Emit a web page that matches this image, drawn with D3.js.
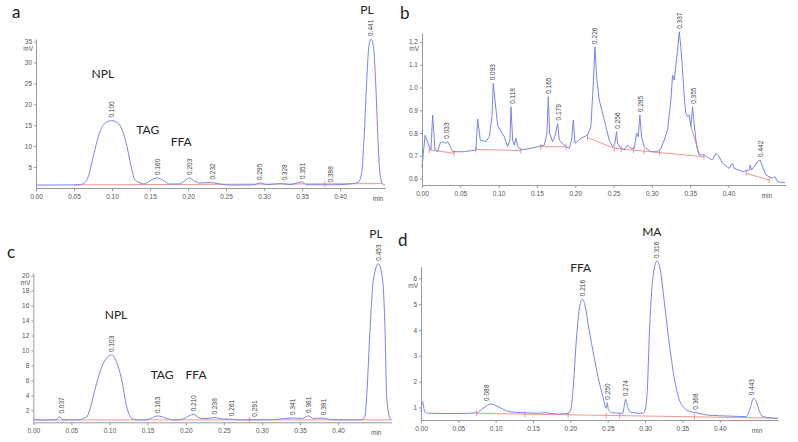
<!DOCTYPE html>
<html>
<head>
<meta charset="utf-8">
<script src="https://cdn.jsdelivr.net/npm/d3@7"></script>
<style>
  body { margin: 0; background: #fff; }
  svg text { font-family: "Liberation Sans", Arial, sans-serif; }
  .axis path, .axis line { stroke: #9a9a9a; }
  .axis text { fill: #555; font-size: 6.5px; }
  .name { font-family: Lato, "Open Sans", sans-serif !important; fill: #222; font-size: 12px; }
  .letter { font-family: Lato, "Open Sans", sans-serif !important; fill: #222; font-size: 17px; }
</style>
</head>
<body>
<svg id="chart" width="798" height="442"></svg>
<script>
// retention time ticks (min), shared by all chromatograms
var timeTicks = [0, 0.05, 0.10, 0.15, 0.20, 0.25, 0.30, 0.35, 0.40];

// ---- a : [time min, mV]
var aSignal = [[0,0.7],[0.03,0.72],[0.055,0.75],[0.062,1.0],[0.069,2.8],[0.0754,7.6],[0.0842,13.5],[0.093,15.75],[0.0996,16.1],
  [0.1083,15.4],[0.115,13.1],[0.1215,8.4],[0.126,4.4],[0.130,2.0],[0.137,1.2],[0.142,0.95],[0.150,1.75],[0.159,2.4],[0.1675,1.8],
  [0.176,0.95],[0.187,0.95],[0.196,1.75],[0.2018,2.4],[0.209,1.6],[0.216,1.2],[0.229,1.3],[0.242,0.95],[0.255,0.7],[0.286,0.75],
  [0.295,1.2],[0.303,0.8],[0.323,1.05],[0.334,0.8],[0.3496,1.45],[0.356,0.8],[0.388,0.75],[0.4175,1.05],[0.424,1.35],[0.4285,3.6],
  [0.432,13.1],[0.435,25],[0.438,33.8],[0.4408,35.6],[0.444,33.8],[0.447,25],[0.4496,13.1],[0.4526,3.6],[0.456,0.95],[0.459,0.7]];
var aBaseline = [[[0.05,0.75],[0.455,1.05]]];
var aBaseMarks = [0.38];
var aPeaks = [[0.100,16.1],[0.160,2.4],[0.203,2.4],[0.232,1.3],[0.295,1.2],[0.328,1.05],[0.351,1.45],[0.388,0.6],[0.441,35.6]];
var aNames = [["NPL",0.088,27],["TAG",0.147,13.7],["FFA",0.191,10.8],["PL",0.4355,42.2]];
var aYTicks = [5,10,15,20,25,30,35];

// ---- b
var bSignal = [[0,0.65],[0.004,0.79],[0.0096,0.74],[0.0117,0.726],[0.0139,0.879],[0.017,0.726],[0.0204,0.718],[0.0239,0.758],
  [0.027,0.762],[0.0313,0.755],[0.0335,0.762],[0.037,0.74],[0.04,0.718],[0.0552,0.718],[0.0704,0.726],[0.0726,0.861],[0.0761,0.769],
  [0.0835,0.762],[0.0878,0.784],[0.0913,0.872],[0.093,1.018],[0.0952,0.945],[0.0987,0.835],[0.103,0.806],[0.1074,0.784],[0.1117,0.74],
  [0.1148,0.769],[0.1161,0.915],[0.1183,0.769],[0.1204,0.747],[0.1226,0.777],[0.1248,0.74],[0.1291,0.726],[0.1422,0.733],[0.1596,0.747],
  [0.163,0.799],[0.1648,0.959],[0.1665,0.799],[0.1704,0.762],[0.1735,0.784],[0.177,0.842],[0.1791,0.769],[0.1878,0.74],[0.1922,0.733],
  [0.1952,0.769],[0.1974,0.857],[0.1996,0.755],[0.2074,0.777],[0.2161,0.791],[0.2204,0.828],[0.2235,1.018],[0.2257,1.178],[0.2278,1.047],
  [0.2313,0.945],[0.2357,0.886],[0.24,0.828],[0.2443,0.769],[0.2487,0.74],[0.2517,0.755],[0.2539,0.806],[0.2552,0.755],[0.2596,0.733],
  [0.2639,0.726],[0.2683,0.747],[0.2726,0.733],[0.277,0.733],[0.28,0.799],[0.2822,0.784],[0.2843,0.879],[0.2865,0.784],[0.29,0.74],
  [0.2987,0.718],[0.3074,0.718],[0.3117,0.733],[0.3161,0.769],[0.3204,0.813],[0.3248,0.945],[0.327,1.054],[0.3291,1.032],[0.3313,1.098],
  [0.3335,1.164],[0.3357,1.244],[0.3378,1.178],[0.34,1.076],[0.3422,0.959],[0.3443,0.886],[0.3465,0.872],[0.3487,0.879],[0.3509,0.828],
  [0.353,0.915],[0.3552,0.842],[0.3574,0.769],[0.3596,0.726],[0.3617,0.704],[0.3683,0.704],[0.3748,0.689],[0.3791,0.682],[0.3835,0.711],
  [0.3878,0.696],[0.3922,0.667],[0.4009,0.645],[0.4052,0.667],[0.4074,0.645],[0.4183,0.631],[0.427,0.638],[0.4283,0.66],[0.43,0.638],
  [0.4335,0.653],[0.4378,0.674],[0.4413,0.682],[0.4443,0.653],[0.4487,0.616],[0.4574,0.601],[0.4604,0.609],[0.4639,0.587],[0.4735,0.582]];
var bBaseline = [[[0.0096,0.726],[0.042,0.711]],[[0.0704,0.728],[0.129,0.723]],[[0.155,0.74],[0.188,0.74]],
  [[0.216,0.78],[0.251,0.733],[0.368,0.696]],[[0.351,0.828],[0.362,0.704]],[[0.423,0.623],[0.453,0.594]]];
var bBaseMarks = [0.0096,0.042,0.0704,0.129,0.155,0.188,0.216,0.251,0.26,0.276,0.29,0.31,0.368,0.423,0.453];
var bPeaks = [[0.033,0.762],[0.093,1.018],[0.118,0.915],[0.165,0.959],[0.179,0.842],[0.226,1.178],[0.256,0.806],[0.285,0.879],
  [0.337,1.244],[0.355,0.915],[0.442,0.682]];
var bNames = [];
var bYTicks = [0.6,0.7,0.8,0.9,1.0,1.1,1.2];

// ---- c
var cSignal = [[0,0.8],[0.01,0.7],[0.03,0.72],[0.034,1.16],[0.039,0.72],[0.06,0.72],[0.066,0.94],[0.070,1.1],[0.074,2.05],[0.083,5.6],
  [0.092,8.3],[0.1028,9.4],[0.109,8.5],[0.116,6.1],[0.1225,2.5],[0.129,0.94],[0.138,0.71],[0.147,0.72],[0.156,1.0],[0.163,1.25],
  [0.175,0.94],[0.184,0.71],[0.195,0.8],[0.205,1.3],[0.210,1.47],[0.219,0.94],[0.228,0.9],[0.238,1.05],[0.247,0.85],[0.261,0.82],
  [0.27,0.72],[0.291,0.74],[0.30,0.72],[0.32,0.8],[0.341,0.98],[0.352,0.9],[0.361,1.25],[0.368,0.9],[0.373,0.95],[0.381,0.94],
  [0.39,0.78],[0.405,0.72],[0.43,0.72],[0.4353,1.2],[0.4374,3.8],[0.4418,12.7],[0.4462,19.4],[0.4528,21.6],[0.4584,19.4],
  [0.4615,12.7],[0.4637,3.8],[0.4681,0.94],[0.47,0.75]];
var cBaseline = [[[0,0.72],[0.47,0.72]]];
var cBaseMarks = [0.2835];
var cPeaks = [[0.037,1.16],[0.103,9.4],[0.163,1.25],[0.210,1.47],[0.238,1.05],[0.261,0.82],[0.291,0.74],[0.341,0.98],
  [0.361,1.25],[0.381,0.94],[0.453,21.6]];
var cNames = [["NPL",0.1085,14.6],["TAG",0.169,6.6],["FFA",0.2135,6.6],["PL",0.4495,25.4]];
var cYTicks = [2,4,6,8,10,12,14,16,18,20];

// ---- d
var dSignal = [[0,0.83],[0.002,1.22],[0.005,0.83],[0.01,0.77],[0.05,0.76],[0.074,0.79],[0.083,0.96],[0.094,1.13],[0.0986,1.09],
  [0.1075,0.96],[0.1187,0.83],[0.139,0.79],[0.157,0.77],[0.1655,0.79],[0.183,0.74],[0.197,0.77],[0.2004,0.90],[0.2035,1.67],
  [0.208,3.61],[0.2124,4.90],[0.216,5.19],[0.220,4.90],[0.2236,4.26],[0.230,3.22],[0.237,2.19],[0.2436,1.41],[0.248,0.96],
  [0.2494,1.18],[0.251,0.90],[0.257,0.79],[0.270,0.77],[0.274,1.31],[0.2765,1.03],[0.2805,0.81],[0.297,0.77],[0.300,0.90],
  [0.303,1.67],[0.306,4.0],[0.3106,6.06],[0.316,6.67],[0.3204,6.32],[0.326,5.03],[0.333,3.35],[0.3396,2.06],[0.346,1.28],
  [0.353,0.96],[0.362,0.83],[0.3686,0.79],[0.384,0.70],[0.4154,0.66],[0.4355,0.64],[0.440,0.90],[0.4453,1.35],[0.449,1.22],
  [0.4534,0.83],[0.4578,0.64],[0.478,0.57]];
var dBaseline = [[[0.074,0.77],[0.478,0.58]]];
var dBaseMarks = [0.074,0.139,0.197,0.248,0.266,0.366];
var dPeaks = [[0.088,1.13],[0.216,5.19],[0.250,1.18],[0.274,1.31],[0.316,6.67],[0.368,0.79],[0.443,1.35]];
var dNames = [["FFA",0.2138,6.36],["MA",0.309,7.75]];
var dYTicks = [1,2,3,4,5,6];

var svg = d3.select("#chart");
var blue = "#7884ef", red = "#f27c70";

function drawPanel(o) {
  var x = d3.scaleLinear().domain(o.xDomain).range(o.xRange);
  var y = d3.scaleLinear().domain(o.yDomain).range(o.yRange);
  var g = svg.append("g");

  var xa = g.append("g").attr("class", "axis")
    .attr("transform", "translate(0," + o.yRange[0] + ")")
    .call(d3.axisBottom(x).tickValues(timeTicks).tickFormat(d3.format(".2f")).tickSize(3).tickSizeOuter(0).tickPadding(3));
  xa.append("text").attr("x", x(0.45)).attr("y", 13).attr("text-anchor", "middle").text("min");

  var ya = g.append("g").attr("class", "axis")
    .attr("transform", "translate(" + o.xRange[0] + ",0)")
    .call(d3.axisLeft(y).tickValues(o.yTicks).tickFormat(o.yFormat).tickSize(2).tickSizeOuter(0).tickPadding(2));
  ya.append("text").attr("x", -3).attr("y", y(o.yTicks[o.yTicks.length - 1]) + 9.5)
    .attr("text-anchor", "end").text("mV");

  // integration baselines
  var lin = d3.line().x(function(d){ return x(d[0]); }).y(function(d){ return y(d[1]); });
  o.baseline.forEach(function(seg){
    g.append("path").attr("d", lin(seg)).attr("fill", "none").attr("stroke", red).attr("stroke-width", 0.8);
  });
  var baseAt = function(t){
    for (var i = 0; i < o.baseline.length; i++) {
      var s = o.baseline[i];
      for (var k = 0; k < s.length - 1; k++) {
        if (t >= s[k][0] - 1e-6 && t <= s[k+1][0] + 1e-6) {
          return s[k][1] + (s[k+1][1] - s[k][1]) * (t - s[k][0]) / (s[k+1][0] - s[k][0]);
        }
      }
    }
    return o.baseline[0][0][1];
  };
  g.selectAll(".mark").data(o.marks).enter().append("line")
    .attr("x1", function(d){ return x(d); }).attr("x2", function(d){ return x(d); })
    .attr("y1", function(d){ return y(baseAt(d)) - 3; }).attr("y2", function(d){ return y(baseAt(d)) + 3; })
    .attr("stroke", red).attr("stroke-width", 0.8);

  // signal
  g.append("path").datum(o.signal)
    .attr("d", d3.line().x(function(d){ return x(d[0]); }).y(function(d){ return y(d[1]); }).curve(o.curve))
    .attr("fill", "none").attr("stroke", blue).attr("stroke-width", 1);

  // retention time labels
  g.selectAll(".rt").data(o.peaks).enter().append("text")
    .attr("transform", function(d){ return "translate(" + (x(d[0]) + 2.2) + "," + (y(d[1]) - 3) + ") rotate(-90)"; })
    .attr("font-size", "6.5px").attr("fill", "#444")
    .text(function(d){ return d3.format(".3f")(d[0]); });

  // component names
  g.selectAll(".name").data(o.names).enter().append("text").attr("class", "name")
    .attr("x", function(d){ return x(d[1]); }).attr("y", function(d){ return y(d[2]); })
    .attr("text-anchor", "middle").attr("dominant-baseline", "middle")
    .text(function(d){ return d[0]; });

  svg.append("text").attr("class", "letter").attr("x", o.letterPos[0]).attr("y", o.letterPos[1]).text(o.letter);
}

drawPanel({ letter: "a", letterPos: [12, 18], signal: aSignal, baseline: aBaseline, marks: aBaseMarks, peaks: aPeaks,
  names: aNames, yTicks: aYTicks, yFormat: d3.format("d"), curve: d3.curveMonotoneX,
  xDomain: [0, 0.46], xRange: [36, 385.6], yDomain: [0, 35.6], yRange: [188, 39] });
drawPanel({ letter: "b", letterPos: [400, 19], signal: bSignal, baseline: bBaseline, marks: bBaseMarks, peaks: bPeaks,
  names: bNames, yTicks: bYTicks, yFormat: d3.format(".1f"), curve: d3.curveLinear,
  xDomain: [0, 0.475], xRange: [422, 786], yDomain: [0.572, 1.239], yRange: [185, 33] });
drawPanel({ letter: "c", letterPos: [7, 258], signal: cSignal, baseline: cBaseline, marks: cBaseMarks, peaks: cPeaks,
  names: cNames, yTicks: cYTicks, yFormat: d3.format("d"), curve: d3.curveMonotoneX,
  xDomain: [0, 0.47], xRange: [33.3, 391.5], yDomain: [0.4, 20.4], yRange: [422.3, 272.7] });
drawPanel({ letter: "d", letterPos: [398, 246], signal: dSignal, baseline: dBaseline, marks: dBaseMarks, peaks: dPeaks,
  names: dNames, yTicks: dYTicks, yFormat: d3.format("d"), curve: d3.curveMonotoneX,
  xDomain: [0, 0.478], xRange: [421, 778], yDomain: [0.51, 6.45], yRange: [420, 266.7] });
</script>
</body>
</html>
